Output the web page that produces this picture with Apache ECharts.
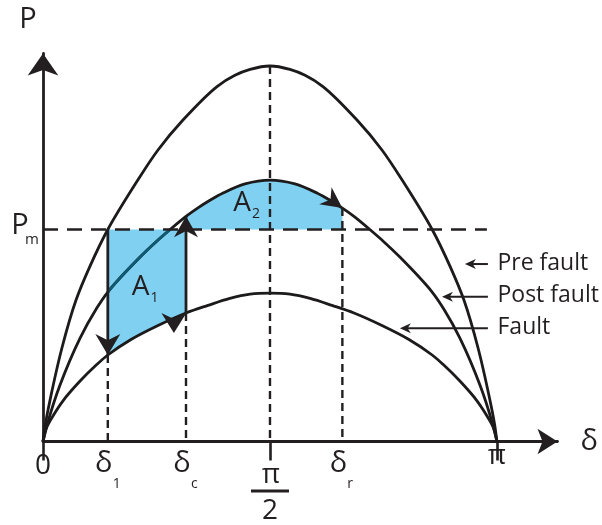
<!DOCTYPE html>
<html>
<head>
<meta charset="utf-8">
<script src="https://cdn.jsdelivr.net/npm/echarts@6.0.0/dist/echarts.min.js"></script>
<style>
  html, body { margin: 0; padding: 0; background: #ffffff; }
  #chart { width: 602px; height: 525px; }
</style>
</head>
<body>
<div id="chart"></div>
<script>
// Power-angle curves: rotor angle in degrees (180° = π), power in units of Pm.
const preFault = [[0,0],[1,0.085],[2.8,0.196],[7.5,0.441],[13.1,0.667],[18.6,0.826],[25.7,1.0],[37.6,1.233],[45.6,1.375],[55.5,1.516],[69,1.674],[76.1,1.727],[82.1,1.755],[90,1.771],[97.9,1.755],[103.9,1.727],[111,1.674],[124.5,1.516],[134.4,1.375],[142.4,1.233],[154.3,1.0],[161.4,0.826],[166.9,0.667],[172.5,0.441],[177.2,0.196],[179,0.085],[180,0]];
const postFault = [[0,0],[2,0.094],[6.6,0.262],[14.7,0.488],[21.1,0.625],[25.7,0.705],[38.5,0.870],[45.6,0.950],[50.4,1.0],[56.7,1.062],[61.3,1.101],[66.2,1.138],[71.4,1.172],[80.1,1.215],[90,1.233],[99.9,1.215],[108.6,1.172],[113.8,1.138],[118.7,1.101],[123.3,1.062],[129.6,1.0],[134.4,0.950],[141.5,0.870],[154.3,0.705],[158.9,0.625],[165.3,0.488],[173.4,0.262],[178,0.094],[180,0]];
const duringFault = [[0,0],[1.2,0.059],[2.8,0.097],[8,0.193],[14.7,0.285],[21.3,0.363],[25.7,0.408],[34.9,0.481],[45.6,0.547],[56.7,0.606],[65.4,0.642],[74.1,0.675],[82.1,0.695],[90,0.70],[97.9,0.695],[105.9,0.675],[114.6,0.642],[123.3,0.606],[134.4,0.547],[145.1,0.481],[154.3,0.408],[158.7,0.363],[165.3,0.285],[172,0.193],[177.2,0.097],[178.8,0.059],[180,0]];

// Mechanical input and the key angles.
const Pm = 1.0;
const pmLineEnd = 176;
const delta1 = 25.7;      // fault instant
const deltaCross = 50.4;  // post-fault curve meets Pm
const deltaC = 56.7;      // clearing angle
const deltaR = 118.7;     // maximum swing
const faultTurnTip = [51.9, 0.512];

// Axis tick labels.
const tickValues = [0, delta1, deltaC, 90, deltaR, 180];
const tickMain = ['0', 'δ', 'δ', 'π', 'δ', 'π'];
const tickSub = ['', '1', 'c', '', 'r', ''];
const tickDenom = ['', '', '', '2', '', ''];

// Curve legend.
const curveNames = ['Pre fault', 'Post fault', 'Fault'];
const curveNameLevels = [0.837, 0.683, 0.534];
const curveNameArrowTips = [167.3, 158.2, 141.5];
const curveNameArrowTail = 176.4;
const curveNameTextAt = 180.2;

// Equal-area labels.
const areaNames = ['A', 'A'];
const areaSubs = ['1', '2'];
const areaLabelAt = [[39.85, 0.729], [80.1, 1.125]];

const INK = '#231f20';
const CURVE = '#1c1a1b';
const FILL = '#80d1f1';
const TEAL = '#0f5a72';
const FONT = '"Open Sans", "Noto Sans", sans-serif';

function at(curve, d) {
  const p = curve.find(q => Math.abs(q[0] - d) < 1e-9);
  return p ? p[1] : NaN;
}
function indexAt(curve, d) {
  return curve.findIndex(q => Math.abs(q[0] - d) < 1e-9);
}

// Centripetal Catmull-Rom through the projected samples, as cubic Bezier segments.
function bezierSegments(pts) {
  const segs = [];
  const dist = (a, b) => Math.max(1e-6, Math.hypot(a[0] - b[0], a[1] - b[1]));
  for (let i = 0; i < pts.length - 1; i++) {
    const p1 = pts[i], p2 = pts[i + 1];
    const p0 = i > 0 ? pts[i - 1] : [2 * p1[0] - p2[0], 2 * p1[1] - p2[1]];
    const p3 = i < pts.length - 2 ? pts[i + 2] : [2 * p2[0] - p1[0], 2 * p2[1] - p1[1]];
    const d1 = Math.sqrt(dist(p0, p1)), d2 = Math.sqrt(dist(p1, p2)), d3 = Math.sqrt(dist(p2, p3));
    const c1 = [0, 1].map(k => (d1 * d1 * p2[k] - d2 * d2 * p0[k] + (2 * d1 * d1 + 3 * d1 * d2 + d2 * d2) * p1[k]) / (3 * d1 * (d1 + d2)));
    const c2 = [0, 1].map(k => (d3 * d3 * p1[k] - d2 * d2 * p3[k] + (2 * d3 * d3 + 3 * d3 * d2 + d2 * d2) * p2[k]) / (3 * d3 * (d3 + d2)));
    segs.push([p1, c1, c2, p2]);
  }
  return segs;
}
const fmt = p => p[0].toFixed(2) + ' ' + p[1].toFixed(2);
function forwardPath(segs, i0, i1) {
  let s = '';
  for (let i = i0; i < i1; i++) s += ' C ' + fmt(segs[i][1]) + ' ' + fmt(segs[i][2]) + ' ' + fmt(segs[i][3]);
  return s;
}
function backwardPath(segs, i1, i0) {
  let s = '';
  for (let i = i1 - 1; i >= i0; i--) s += ' C ' + fmt(segs[i][2]) + ' ' + fmt(segs[i][1]) + ' ' + fmt(segs[i][0]);
  return s;
}
const project = (api, curve) => curve.map(p => api.coord(p));

function arrowPoints(tip, dirDeg, len, wid) {
  const a = dirDeg * Math.PI / 180;
  const ux = Math.cos(a), uy = Math.sin(a);
  const px = -uy, py = ux;
  const bx = tip[0] - ux * len, by = tip[1] - uy * len;
  const nx = tip[0] - ux * len * 0.7, ny = tip[1] - uy * len * 0.7;
  return [[tip[0], tip[1]], [bx + px * wid / 2, by + py * wid / 2], [nx, ny], [bx - px * wid / 2, by - py * wid / 2]];
}

function txt(x, y, text, size, align) {
  return {
    type: 'text', x: x, y: y, silent: true,
    style: { text: text, fill: INK, fontSize: size, fontFamily: FONT, align: align || 'center', verticalAlign: 'middle' }
  };
}

// Dashed drops to the angle axis, each from the curve it marks.
const drops = [[delta1, at(duringFault, delta1)], [deltaC, at(duringFault, deltaC)], [90, at(preFault, 90)], [deltaR, at(postFault, deltaR)]];
// Solid swing arrows (angle, from, to).
const swings = [[delta1, Pm, at(duringFault, delta1)], [deltaC, at(duringFault, deltaC), at(postFault, deltaC)]];
// Arrowhead tips on the trajectory.
const headTips = [[delta1, at(duringFault, delta1)], [deltaC, at(postFault, deltaC)], faultTurnTip, [deltaR, at(postFault, deltaR)]];
const headStyle = [{dir: 90, len: 21, wid: 25}, {dir: -90, len: 21, wid: 24}, {dir: 90, len: 20, wid: 25}, {dir: 36, len: 21, wid: 21}];

const chart = echarts.init(document.getElementById('chart'), null, { renderer: 'canvas' });

function curveSeries(name, curve, highlight) {
  return {
    type: 'custom', name: name, coordinateSystem: 'cartesian2d', z: 2, clip: false, silent: true,
    data: [curve[0]],
    renderItem: (params, api) => {
      const pts = project(api, curve);
      const segs = bezierSegments(pts);
      const kids = [{
        type: 'path', silent: true,
        shape: { pathData: 'M ' + fmt(pts[0]) + forwardPath(segs, 0, segs.length) },
        style: { fill: null, stroke: CURVE, lineWidth: 2.8, lineJoin: 'round' }
      }];
      if (highlight) {
        const i0 = indexAt(curve, highlight[0]), i1 = indexAt(curve, highlight[1]);
        kids.push({
          type: 'path', silent: true,
          shape: { pathData: 'M ' + fmt(pts[i0]) + forwardPath(segs, i0, i1) },
          style: { fill: null, stroke: TEAL, lineWidth: 2.8 }
        });
      }
      return { type: 'group', children: kids };
    }
  };
}

chart.setOption({
  animation: false,
  backgroundColor: '#ffffff',
  grid: { left: 43, top: 53.5, width: 514.5, height: 388, containLabel: false },
  xAxis: {
    type: 'value', min: 0, max: 204,
    name: 'δ', nameLocation: 'end', nameGap: 23,
    nameTextStyle: { fontSize: 29, fontFamily: FONT, color: INK, verticalAlign: 'middle', padding: [0, 0, 2, 0] },
    axisLine: { show: true, onZero: false, symbol: ['none', 'arrow'], symbolSize: [19, 20], lineStyle: { color: INK, width: 2.8 } },
    axisTick: { show: true, customValues: [0, 90, 180], length: 19, inside: false, lineStyle: { color: INK, width: 2.6 } },
    axisLabel: { show: false },
    splitLine: { show: false }
  },
  yAxis: {
    type: 'value', min: 0, max: 1.83,
    name: 'P', nameLocation: 'end', nameGap: 19,
    nameTextStyle: { fontSize: 29, fontFamily: FONT, color: INK, padding: [0, 30, 0, 0] },
    axisLine: { show: true, onZero: false, symbol: ['none', 'arrow'], symbolSize: [23, 22], lineStyle: { color: INK, width: 2.8 } },
    axisTick: { show: false },
    axisLabel: { show: false },
    splitLine: { show: false }
  },
  series: [
    {
      type: 'custom', name: 'areas', coordinateSystem: 'cartesian2d', z: 1, clip: false, silent: true,
      data: [[delta1, Pm]],
      renderItem: (params, api) => {
        const f = project(api, duringFault), fs = bezierSegments(f);
        const p = project(api, postFault), ps = bezierSegments(p);
        const a = api.coord([delta1, Pm]), b = api.coord([deltaC, Pm]), r = api.coord([deltaR, Pm]);
        const fi0 = indexAt(duringFault, delta1), fi1 = indexAt(duringFault, deltaC);
        const pi0 = indexAt(postFault, deltaC), pi1 = indexAt(postFault, deltaR);
        const a1 = 'M ' + fmt(a) + ' L ' + fmt(b) + ' L ' + fmt(f[fi1]) + backwardPath(fs, fi1, fi0) + ' Z';
        const a2 = 'M ' + fmt(b) + ' L ' + fmt(p[pi0]) + forwardPath(ps, pi0, pi1) + ' L ' + fmt(r) + ' Z';
        return { type: 'group', children: [
          { type: 'path', silent: true, shape: { pathData: a1 }, style: { fill: FILL } },
          { type: 'path', silent: true, shape: { pathData: a2 }, style: { fill: FILL } }
        ] };
      }
    },
    curveSeries('Pre fault', preFault),
    curveSeries('Post fault', postFault, [delta1, deltaCross]),
    curveSeries('Fault', duringFault),
    {
      type: 'custom', name: 'guides', coordinateSystem: 'cartesian2d', z: 3, clip: false, silent: true,
      data: [[0, 0]],
      renderItem: (params, api) => {
        const kids = [];
        const a = api.coord([0, Pm]), b = api.coord([pmLineEnd, Pm]);
        kids.push({ type: 'line', shape: { x1: a[0], y1: a[1], x2: b[0], y2: b[1] },
          style: { stroke: INK, lineWidth: 2.7, lineDash: [15, 9] } });
        drops.forEach(d => {
          const p = api.coord([d[0], d[1]]), q = api.coord([d[0], 0]);
          kids.push({ type: 'line', shape: { x1: p[0], y1: p[1], x2: q[0], y2: q[1] },
            style: { stroke: INK, lineWidth: 2.4, lineDash: [8, 5] } });
        });
        swings.forEach(s => {
          const p = api.coord([s[0], s[1]]), q = api.coord([s[0], s[2]]);
          kids.push({ type: 'line', shape: { x1: p[0], y1: p[1], x2: q[0], y2: q[1] },
            style: { stroke: INK, lineWidth: 2.8 } });
        });
        headTips.forEach((t, i) => {
          const s = headStyle[i];
          kids.push({ type: 'polygon', shape: { points: arrowPoints(api.coord(t), s.dir, s.len, s.wid) },
            style: { fill: INK } });
        });
        curveNames.forEach((n, i) => {
          const tip = api.coord([curveNameArrowTips[i], curveNameLevels[i]]);
          const tail = api.coord([curveNameArrowTail, curveNameLevels[i]]);
          kids.push({ type: 'line', shape: { x1: tip[0] + 6, y1: tip[1], x2: tail[0], y2: tail[1] },
            style: { stroke: INK, lineWidth: 2 } });
          kids.push({ type: 'polygon', shape: { points: arrowPoints(tip, 180, 11, 10) }, style: { fill: INK } });
          const tp = api.coord([curveNameTextAt, curveNameLevels[i]]);
          kids.push(txt(tp[0], tp[1] - 1, n, 23, 'left'));
        });
        areaLabelAt.forEach((p, i) => {
          const c = api.coord(p);
          kids.push(txt(c[0] - 3, c[1], areaNames[i], 28));
          kids.push(txt(c[0] + 11, c[1] + 11, areaSubs[i], 14));
        });
        // Pm label on the power axis
        const pm = api.coord([0, Pm]);
        kids.push(txt(pm[0] - 23, pm[1] - 4, 'P', 29));
        kids.push(txt(pm[0] - 11, pm[1] + 10, 'm', 15));
        // Angle axis labels
        tickValues.forEach((v, i) => {
          const o = api.coord([v, 0]);
          if (tickDenom[i]) {
            kids.push(txt(o[0] + 1, o[1] + 34, tickMain[i], 28));
            kids.push({ type: 'rect', shape: { x: o[0] - 19, y: o[1] + 48, width: 38, height: 3 }, style: { fill: INK } });
            kids.push(txt(o[0], o[1] + 70, tickDenom[i], 28));
          } else if (tickSub[i]) {
            kids.push(txt(o[0] - 4, o[1] + 22, tickMain[i], 29));
            kids.push(txt(o[0] + 5, o[1] + 43, tickSub[i], 14, 'left'));
          } else if (v === 0) {
            kids.push(txt(o[0], o[1] + 25, tickMain[i], 28));
          } else {
            kids.push(txt(o[0], o[1] + 15, tickMain[i], 28));
          }
        });
        return { type: 'group', children: kids };
      }
    }
  ]
});
</script>
</body>
</html>
